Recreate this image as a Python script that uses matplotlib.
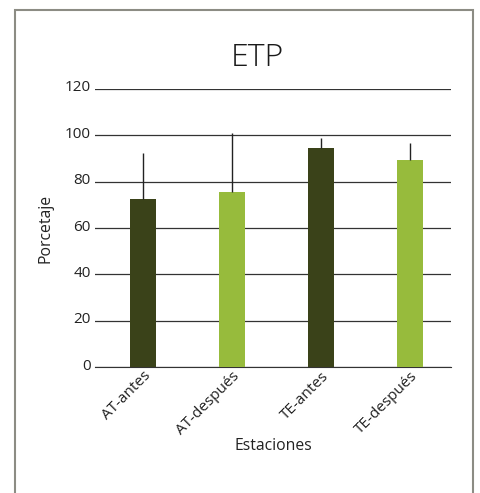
import matplotlib
matplotlib.use("Agg")
import matplotlib.pyplot as plt
from matplotlib.patches import Rectangle
from matplotlib.transforms import ScaledTranslation

categories = ["AT-antes", "AT-después", "TE-antes", "TE-después"]
values = [72.5, 75.6, 94.5, 89.4]
errors = [20.0, 25.5, 4.2, 7.3]
colors = ["#3a4219", "#97bb3c", "#3a4219", "#97bb3c"]
yticks = [0, 20, 40, 60, 80, 100, 120]

plt.rcParams['font.family'] = ['Open Sans', 'DejaVu Sans']

fig = plt.figure(figsize=(4.81, 4.93), dpi=100)
fig.patches.append(Rectangle((15/481, -0.05), (473-15)/481, 1 - 10/493 + 0.05,
                             transform=fig.transFigure, fill=False,
                             edgecolor="#8c8c84", linewidth=1.5))
ax = fig.add_axes([0.1975, 0.255, 0.74, 0.565])
x = range(len(categories))
ax.bar(x, values, width=0.3, color=colors, zorder=3)
ax.errorbar(x, values, yerr=[[0]*4, errors], fmt="none", ecolor="#222222",
            elinewidth=1.0, capsize=0, zorder=4)
ax.set_ylim(0, 120)
ax.set_xlim(-0.54, 3.46)
ax.set_yticks(yticks)
ax.yaxis.grid(True, color="#333333", linewidth=0.9, zorder=0)
ax.set_axisbelow(True)
for s in ["top", "right", "left"]:
    ax.spines[s].set_visible(False)
ax.spines["bottom"].set_color("#333333")
ax.tick_params(axis="y", length=0, pad=3, labelsize=11, colors="#222222")
ax.tick_params(axis="x", length=0, pad=1, labelsize=11, colors="#222222")
off = ScaledTranslation(0, 3/100, fig.dpi_scale_trans)
for lbl in ax.get_yticklabels():
    lbl.set_transform(lbl.get_transform() + off)
ax.set_xticks(list(x))
ax.set_xticklabels(categories, rotation=45, ha="right", rotation_mode="anchor")
ax.set_xlabel("Estaciones", fontsize=11.3, color="#222222", labelpad=0)
ax.set_ylabel("Porcetaje", fontsize=11.3, color="#222222", labelpad=8)
fig.text(0.5 + 0.035, 1 - 58/493, "ETP", ha="center", va="center", fontsize=23,
         fontweight="light", color="#1a1a1a")
fig.savefig("out.png", dpi=100)
